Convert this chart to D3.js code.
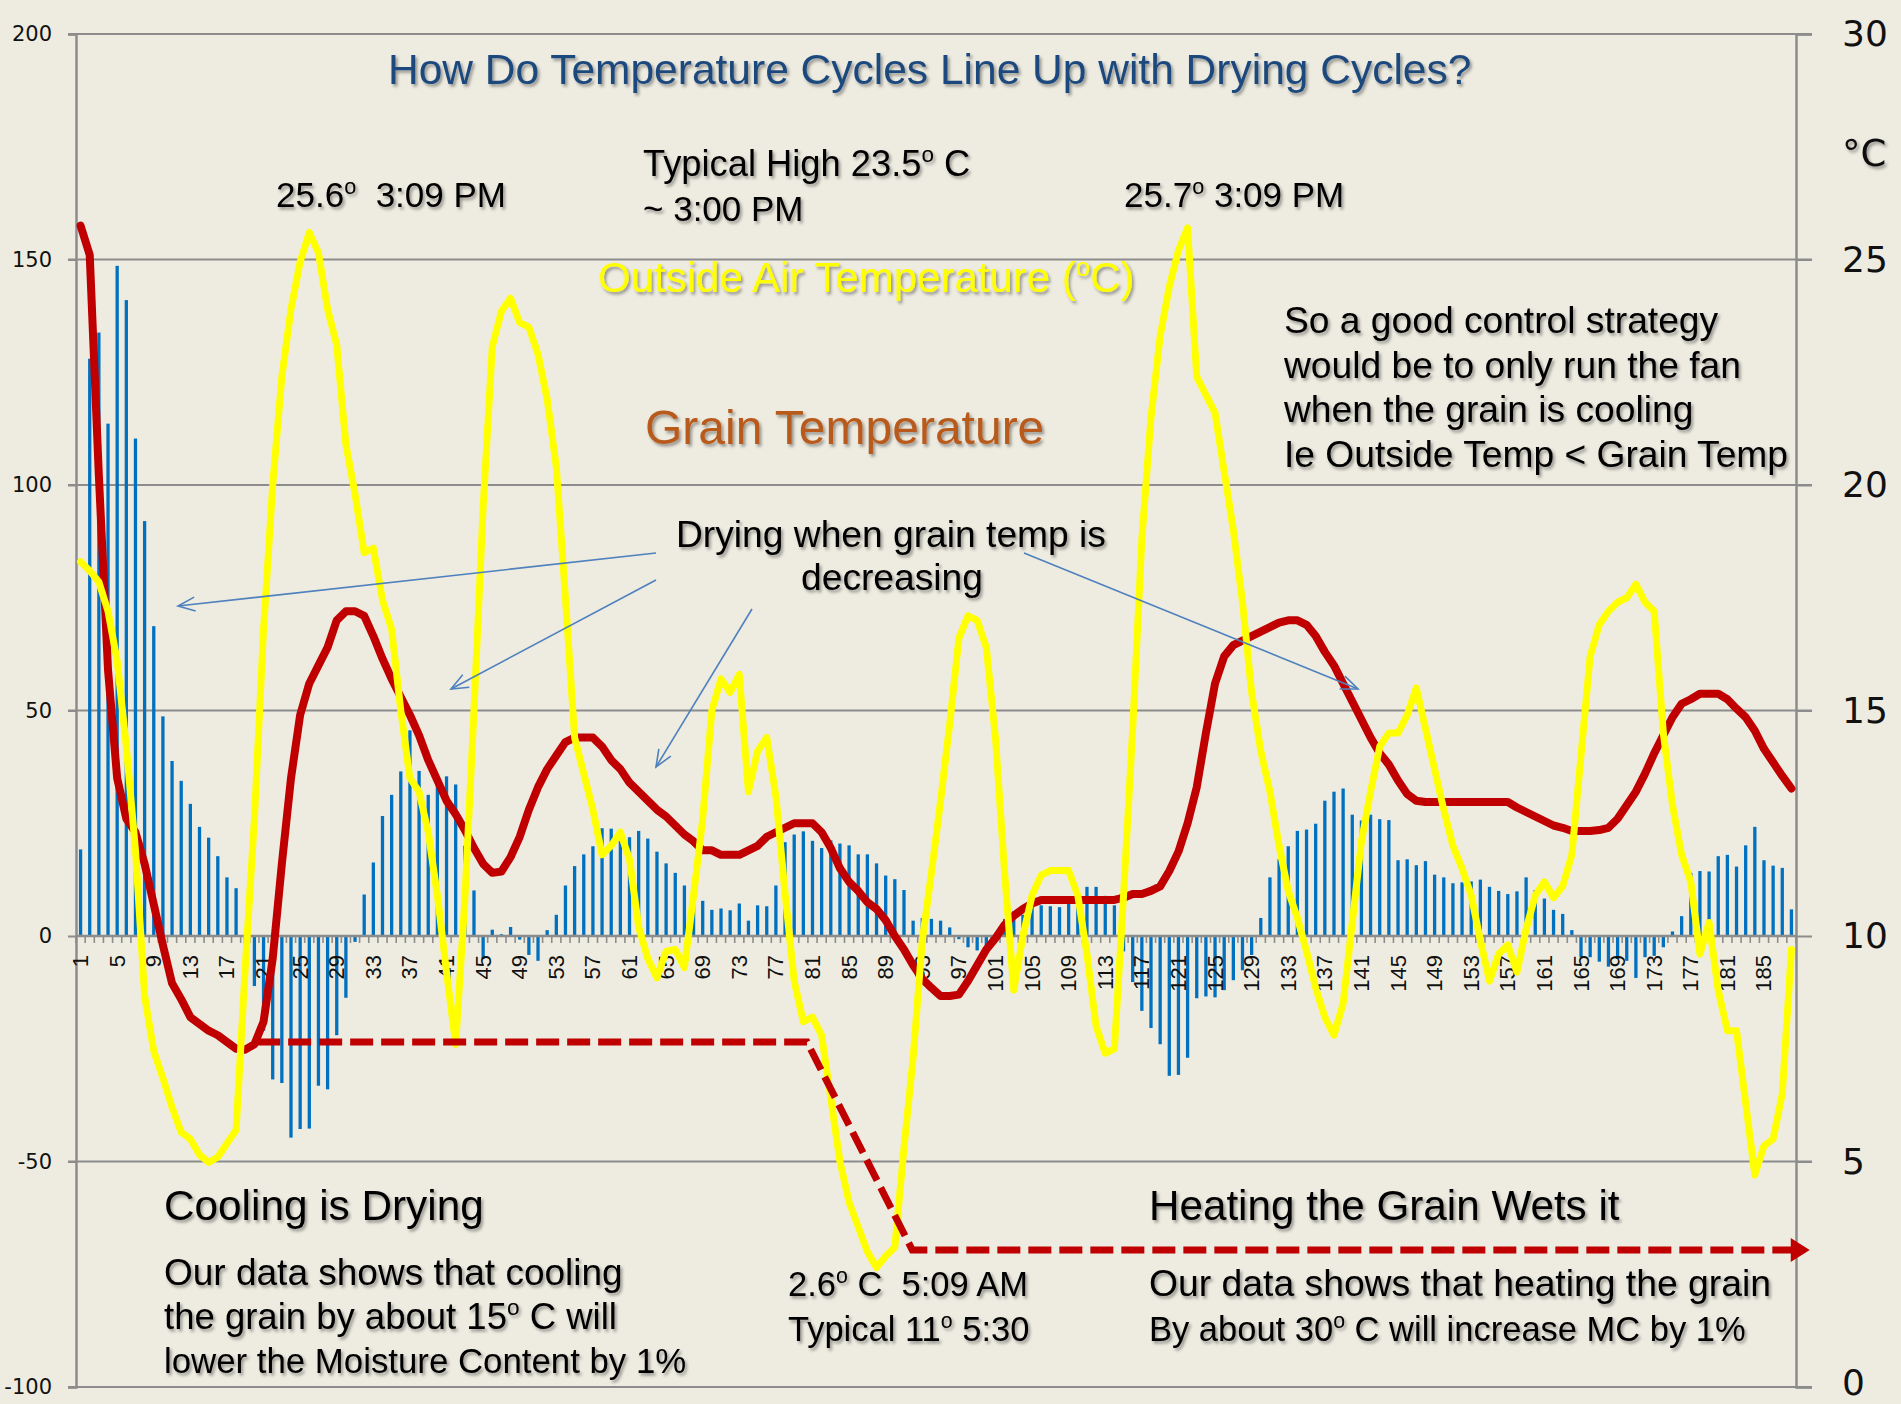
<!DOCTYPE html>
<html><head><meta charset="utf-8">
<script src="https://cdn.jsdelivr.net/npm/d3@7"></script>
<style>html,body{margin:0;padding:0;background:#EEECE1;} svg{display:block} text{white-space:pre}</style>
</head><body><svg id="chart" width="1901" height="1404"></svg>
<script>
// ---------------- DATA ----------------
const categories = d3.range(1, 189);               // sample index 1..188
const leftTicks  = [200, 150, 100, 50, 0, -50, -100];
const rightTicks = [30, 25, 20, 15, 10, 5, 0];

// blue bars (left axis)
const dryingBars = [
  19.2, 128, 133.8, 113.6, 148.6, 141, 110.3, 92, 68.7, 48.7,
  38.8, 34.4, 29.3, 24.2, 21.8, 17.7, 13, 10.6, -2, -11.1,
  -21, -31.8, -32.6, -44.7, -42.8, -42.7, -33.2, -34, -22, -13.7,
  -1.3, 9.2, 16.3, 26.6, 31.3, 36.5, 45.6, 36.6, 31.3, 35,
  35.4, 33.6, 20, 10.1, -5.1, 1.4, 0.4, 2.0, -0.8, -4.2,
  -5.5, 1.3, 4.7, 11.2, 15.5, 18.1, 19.9, 23.9, 23.8, 22.9,
  21.9, 23.3, 21.6, 18.7, 16.1, 14.0, 11.2, 11, 7.8, 5.8,
  6.1, 5.7, 7.2, 3.4, 6.8, 6.6, 11.2, 20.8, 22.5, 23.2,
  21.1, 19.5, 21.2, 20.5, 20.1, 18.1, 18.1, 16.1, 13.4, 12.6,
  10.2, 3.4, 4.0, 3.8, 3.4, 1.9, -0.7, -2.5, -3.2, -2.5,
  -0.8, 3.8, 5.5, 4.7, 6.5, 6.8, 6.6, 6.4, 7.2, 9.2,
  10.9, 10.9, 8.9, 6.8, -3.4, -10.2, -16.6, -20.4, -24, -31,
  -30.8, -27, -13.8, -13.4, -13.6, -12, -9.8, -7.6, -4.2, 4.0,
  13.0, 17.0, 19.9, 23.3, 23.6, 24.9, 30.0, 32.0, 32.7, 26.9,
  25.6, 26.9, 25.9, 25.7, 16.8, 17.0, 15.7, 16.6, 13.6, 13.0,
  11.7, 11.9, 12.1, 12.5, 10.9, 10.0, 9.3, 9.9, 13.0, 10.2,
  8.3, 5.8, 4.9, 1.3, -4.7, -4.7, -5.7, -6.8, -5.1, -5.5,
  -9.3, -4.7, -4.4, -2.5, 1.0, 4.4, 14, 14.4, 14.3, 17.7,
  18.0, 15.4, 20.1, 24.2, 16.8, 15.6, 15.1, 5.9
];

// red line: grain temperature (right axis, °C)
const grainTemp = [
  25.75, 25.1, 20.2, 15.9, 13.5, 12.6, 12.3, 11.6, 10.7, 9.8,
  8.95, 8.6, 8.2, 8.05, 7.9, 7.8, 7.65, 7.5, 7.48, 7.6,
  8.1, 9.5, 11.6, 13.5, 14.9, 15.6, 16.0, 16.4, 17.0, 17.2,
  17.2, 17.1, 16.65, 16.15, 15.7, 15.3, 14.9, 14.45, 13.9, 13.45,
  13.0, 12.7, 12.35, 11.95, 11.6, 11.4, 11.43, 11.75, 12.2, 12.8,
  13.3, 13.7, 14.0, 14.3, 14.4, 14.4, 14.4, 14.2, 13.9, 13.7,
  13.4, 13.2, 13.0, 12.8, 12.65, 12.45, 12.25, 12.1, 11.9, 11.9,
  11.8, 11.8, 11.8, 11.9, 12.0, 12.2, 12.3, 12.4, 12.5, 12.5,
  12.5, 12.3, 11.95, 11.5, 11.2, 11.0, 10.75, 10.6, 10.35, 10.0,
  9.7, 9.35, 9.05, 8.85, 8.67, 8.67, 8.7, 9.0, 9.35, 9.7,
  9.95, 10.25, 10.45, 10.6, 10.72, 10.8, 10.8, 10.8, 10.8, 10.8,
  10.8, 10.8, 10.8, 10.8, 10.85, 10.93, 10.93, 11.0, 11.1, 11.44,
  11.87, 12.5, 13.3, 14.5, 15.6, 16.2, 16.45, 16.55, 16.65, 16.75,
  16.85, 16.95, 17.0, 17.0, 16.9, 16.65, 16.3, 16.0, 15.6, 15.2,
  14.8, 14.4, 14.05, 13.8, 13.45, 13.15, 13.0, 12.97, 12.97, 12.97,
  12.97, 12.97, 12.97, 12.97, 12.97, 12.97, 12.97, 12.85, 12.75, 12.65,
  12.55, 12.45, 12.4, 12.33, 12.33, 12.33, 12.35, 12.4, 12.6, 12.9,
  13.2, 13.6, 14.05, 14.45, 14.85, 15.15, 15.25, 15.37, 15.37, 15.37,
  15.25, 15.04, 14.85, 14.55, 14.15, 13.85, 13.55, 13.27
];

// yellow line: outside air temperature (right axis, °C)
const outsideTemp = [
  18.3, 18.1, 17.85, 17.2, 16.1, 14.2, 11.9, 8.67, 7.45, 6.85,
  6.2, 5.65, 5.5, 5.15, 4.98, 5.1, 5.4, 5.7, 9.3, 12.6,
  16.8, 20.0, 22.4, 23.9, 24.95, 25.6, 25.15, 23.9, 23.1, 20.9,
  19.8, 18.5, 18.6, 17.45, 16.8, 15.0, 13.5, 13.2, 12.3, 10.9,
  9.2, 7.6, 10.8, 15.0, 19.5, 23.07, 23.85, 24.14, 23.6, 23.5,
  22.9, 21.9, 20.4, 17.5, 14.4, 13.6, 12.8, 11.8, 12.0, 12.3,
  11.7, 10.2, 9.5, 9.07, 9.66, 9.7, 9.3, 10.9, 12.6, 15.0,
  15.7, 15.4, 15.8, 13.2, 14.1, 14.4, 13.1, 10.95, 9.0, 8.1,
  8.2, 7.8, 6.4, 5.0, 4.1, 3.55, 3.0, 2.65, 2.9, 3.1,
  5.3, 7.3, 9.9, 11.4, 13.0, 14.7, 16.6, 17.1, 17.0, 16.4,
  14.4, 11.4, 8.8, 10.0, 10.9, 11.35, 11.45, 11.45, 11.45, 10.9,
  9.6, 8.0, 7.4, 7.5, 10.9, 14.6, 18.8, 21.5, 23.3, 24.4,
  25.2, 25.7, 22.4, 22.0, 21.6, 20.3, 19.0, 17.4, 15.4, 14.1,
  13.2, 12.0, 11.0, 10.4, 9.66, 8.85, 8.2, 7.8, 8.5, 10.3,
  12.1, 13.2, 14.2, 14.5, 14.5, 14.9, 15.5, 14.6, 13.7, 12.8,
  12.0, 11.5, 10.9, 9.9, 9.0, 9.6, 9.8, 9.2, 10.15, 10.9,
  11.2, 10.85, 11.1, 11.8, 14.0, 16.2, 16.9, 17.2, 17.4, 17.5,
  17.8, 17.4, 17.2, 14.5, 12.9, 11.8, 11.2, 9.6, 10.3, 8.8,
  7.9, 7.9, 6.3, 4.7, 5.35, 5.5, 6.5, 9.7
];

// ---------------- CHART ----------------
const W = 1901, H = 1404;
const plot = {left: 76, right: 1796, top: 34, bottom: 1387};
const svg = d3.select('#chart');
svg.append('rect').attr('width', W).attr('height', H).attr('fill', '#EEECE1');

const defs = svg.append('defs');
const f = defs.append('filter').attr('id', 'shadow').attr('x', '-5%').attr('y', '-30%').attr('width', '115%').attr('height', '170%');
f.append('feDropShadow').attr('dx', 2).attr('dy', 2.5).attr('stdDeviation', 1.6)
  .attr('flood-color', '#000').attr('flood-opacity', 0.38);
defs.append('marker').attr('id', 'openArrow').attr('viewBox', '-19 -9 21 18')
  .attr('refX', 0).attr('refY', 0).attr('markerWidth', 21).attr('markerHeight', 18)
  .attr('markerUnits', 'userSpaceOnUse').attr('orient', 'auto')
  .append('path').attr('d', 'M-17,-7 L0,0 L-17,7').attr('fill', 'none')
  .attr('stroke', '#4F81BD').attr('stroke-width', 1.6);

const x = d3.scaleBand().domain(categories).range([plot.left, plot.right])
  .paddingInner(0.64).paddingOuter(0.32);
const cx = c => x(c) + x.bandwidth() / 2;
const yL = d3.scaleLinear().domain([-100, 200]).range([plot.bottom, plot.top]);
const yR = d3.scaleLinear().domain([0, 30]).range([plot.bottom, plot.top]);
const xc = d3.scaleLinear().domain([0.5, categories.length + 0.5]).range([plot.left, plot.right]);

const gridColor = '#8C8C8C';
// horizontal grid lines (incl. tick marks outside both axes)
svg.append('g').selectAll('line').data(leftTicks.filter(d => d !== 0)).join('line')
  .attr('x1', plot.left - 8).attr('x2', plot.right + 16)
  .attr('y1', d => yL(d)).attr('y2', d => yL(d))
  .attr('stroke', gridColor).attr('stroke-width', 2);

// left axis
const axL = svg.append('g').attr('transform', `translate(${plot.left},0)`)
  .call(d3.axisLeft(yL).tickValues(leftTicks).tickFormat(d => String(d)).tickSize(8).tickPadding(16));
axL.select('.domain').attr('stroke', gridColor).attr('stroke-width', 2.5);
axL.selectAll('.tick line').attr('stroke', gridColor).attr('stroke-width', 2);
axL.selectAll('.tick text').attr('font-family', 'DejaVu Sans, sans-serif').attr('font-size', 21).attr('fill', '#111');

// right axis
const axR = svg.append('g').attr('transform', `translate(${plot.right},0)`)
  .call(d3.axisRight(yR).tickValues(rightTicks).tickFormat(d => String(d)).tickSize(16).tickPadding(30));
axR.select('.domain').attr('stroke', gridColor).attr('stroke-width', 2.5);
axR.selectAll('.tick line').attr('stroke', gridColor).attr('stroke-width', 2);
axR.selectAll('.tick text').attr('font-family', 'DejaVu Sans, sans-serif').attr('font-size', 36).attr('fill', '#111')
  .attr('dy', d => d === 0 ? '0.2em' : '0.32em');

// bars
svg.append('g').selectAll('rect').data(dryingBars).join('rect')
  .attr('x', (d, i) => x(categories[i]))
  .attr('width', x.bandwidth())
  .attr('y', d => yL(Math.max(0, d)))
  .attr('height', d => Math.abs(yL(d) - yL(0)))
  .attr('fill', '#0070C0');

// category axis line + ticks at category boundaries
const y0 = yL(0);
svg.append('line').attr('x1', plot.left).attr('x2', plot.right).attr('y1', y0).attr('y2', y0)
  .attr('stroke', gridColor).attr('stroke-width', 2.5);
svg.append('g').selectAll('line').data(d3.range(categories.length + 1)).join('line')
  .attr('x1', d => xc(d + 0.5)).attr('x2', d => xc(d + 0.5))
  .attr('y1', y0).attr('y2', y0 + 7)
  .attr('stroke', gridColor).attr('stroke-width', 1.6);
svg.append('g').selectAll('text').data(categories.filter(c => (c - 1) % 4 === 0)).join('text')
  .attr('transform', c => `translate(${cx(c)},${y0 + 19}) rotate(-90)`)
  .attr('text-anchor', 'end').attr('dominant-baseline', 'central')
  .attr('font-family', 'Liberation Sans, Arial, sans-serif').attr('font-size', 22).attr('fill', '#111')
  .text(c => c);

// lines
const line = d3.line().x((d, i) => cx(categories[i])).y(d => yR(d)).curve(d3.curveLinear);
svg.append('path').datum(grainTemp).attr('d', line).attr('fill', 'none')
  .attr('stroke', '#C00000').attr('stroke-width', 8).attr('stroke-linejoin', 'round').attr('stroke-linecap', 'round');
svg.append('path').datum(outsideTemp).attr('d', line).attr('fill', 'none')
  .attr('stroke', '#FFFF00').attr('stroke-width', 7).attr('stroke-linejoin', 'round').attr('stroke-linecap', 'round');

// red dashed annotation path (in data units)
const dashPts = [[20.3, -23.5], [80.4, -23.5], [91.9, -69.6], [188.1, -69.6]];
svg.append('path').attr('d', d3.line().x(d => xc(d[0])).y(d => yL(d[1]))(dashPts))
  .attr('fill', 'none').attr('stroke', '#C00000').attr('stroke-width', 7).attr('stroke-dasharray', '23,8');
const tipX = xc(190.0), tipY = yL(-69.6);
svg.append('path').attr('d', `M${tipX},${tipY} L${tipX - 19},${tipY - 12} L${tipX - 19},${tipY + 12} Z`).attr('fill', '#C00000');

// blue pointer arrows
const arrows = [[656, 553, 178, 606], [656, 580, 451, 689], [752, 609, 656, 767], [1024, 553, 1358, 689]];
svg.append('g').selectAll('line').data(arrows).join('line')
  .attr('x1', d => d[0]).attr('y1', d => d[1]).attr('x2', d => d[2]).attr('y2', d => d[3])
  .attr('stroke', '#4F81BD').attr('stroke-width', 1.6).attr('marker-end', 'url(#openArrow)');

// ---------------- TEXT ----------------
function richText(x0, y, str, size, fill, opts = {}) {
  const t = svg.append('text').attr('x', x0).attr('y', y)
    .attr('font-family', opts.family || 'Liberation Sans, Arial, sans-serif')
    .attr('font-size', size).attr('fill', fill)
    .attr('text-anchor', opts.anchor || 'start');
  if (opts.shadow !== false) t.attr('filter', 'url(#shadow)');
  const parts = str.split(/(\^o)/);
  let raised = false;
  parts.forEach(p => {
    if (p === '^o') {
      t.append('tspan').attr('font-size', size * 0.62).attr('dy', -size * 0.38).text('o');
      raised = true;
    } else if (p.length) {
      const s = t.append('tspan').text(p);
      if (raised) { s.attr('dy', size * 0.38); raised = false; }
    }
  });
  return t;
}

richText(388, 84, 'How Do Temperature Cycles Line Up with Drying Cycles?', 42.5, '#1F497D');
richText(276, 207, '25.6^o  3:09 PM', 35, '#000');
richText(643, 176, 'Typical High 23.5^o C', 36.3, '#000');
richText(643, 221, '~ 3:00 PM', 35, '#000');
richText(1124, 207, '25.7^o 3:09 PM', 35, '#000');
richText(598, 292, 'Outside Air Temperature (^oC)', 42, '#FFFF00');
['So a good control strategy', 'would be to only run the fan', 'when the grain is cooling', 'Ie Outside Temp < Grain Temp']
  .forEach((s, i) => richText(1284, 333 + i * 44.7, s, 37.2, '#000'));
richText(645, 444, 'Grain Temperature', 48, '#B85A1C');
richText(676, 547, 'Drying when grain temp is', 37.2, '#000');
richText(892, 590, 'decreasing', 37.2, '#000', {anchor: 'middle'});
richText(164, 1220, 'Cooling is Drying', 42.3, '#000');
richText(164, 1285, 'Our data shows that cooling', 37, '#000');
richText(164, 1329, 'the grain by about 15^o C will', 36.5, '#000');
richText(164, 1373, 'lower the Moisture Content by 1%', 34.8, '#000');
richText(788, 1296, '2.6^o C  5:09 AM', 34.5, '#000');
richText(788, 1341, 'Typical 11^o 5:30', 34.5, '#000');
richText(1149, 1220, 'Heating the Grain Wets it', 42.2, '#000');
richText(1149, 1296, 'Our data shows that heating the grain', 37.3, '#000');
richText(1149, 1341, 'By about 30^o C will increase MC by 1%', 34.5, '#000');
richText(1842, 166, '°C', 37, '#111', {family: 'DejaVu Sans, sans-serif'});
</script>
</body></html>
